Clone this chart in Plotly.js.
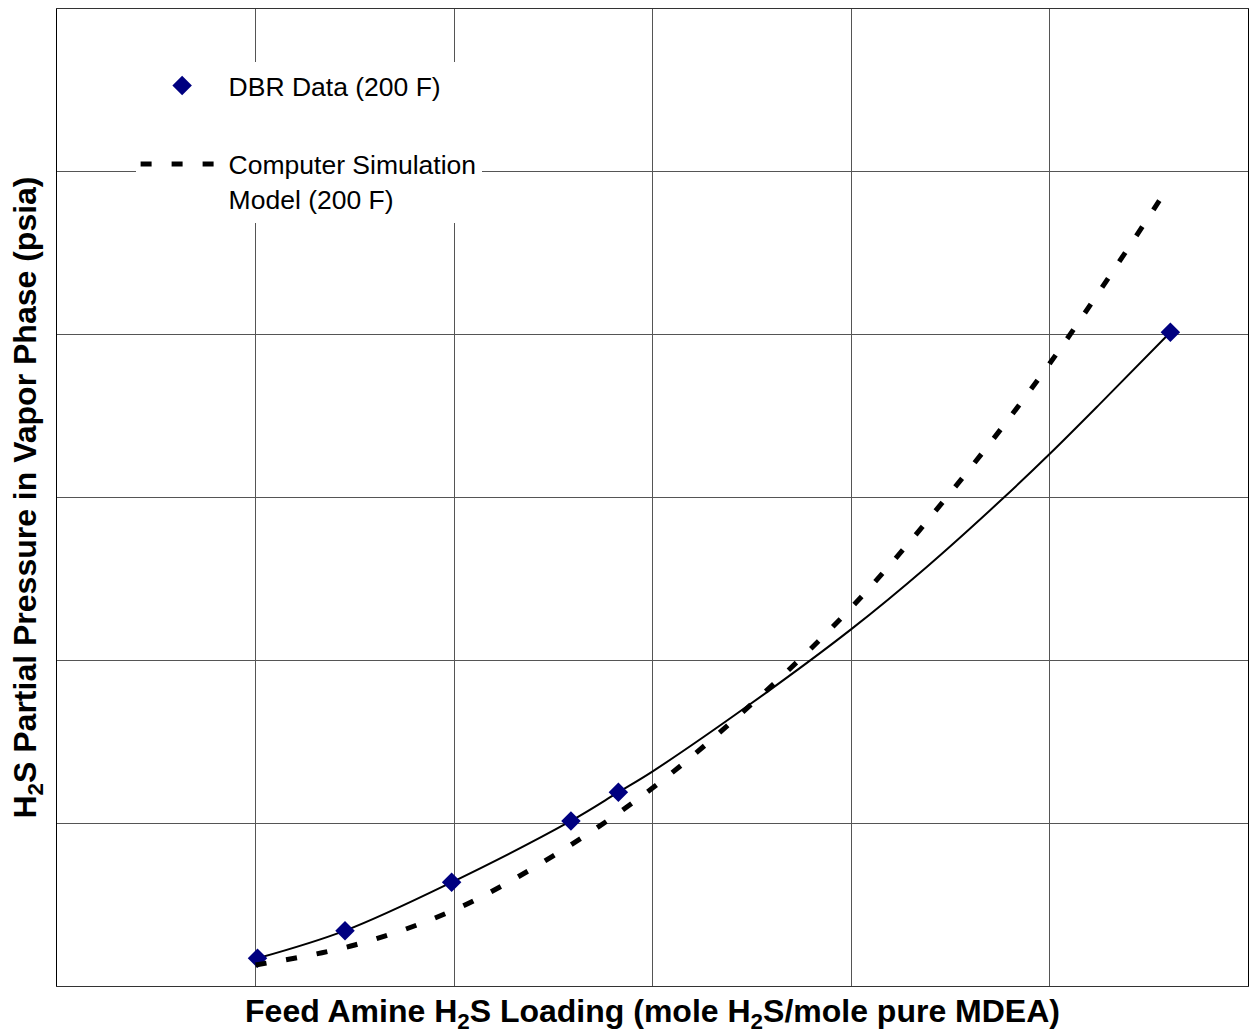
<!DOCTYPE html>
<html>
<head>
<meta charset="utf-8">
<script src="https://cdn.plot.ly/plotly-3.0.1.min.js"></script>
<style>html,body{margin:0;padding:0;background:#fff;}#chart{width:1249px;height:1034px;}</style>
</head>
<body>
<div id="chart"></div>
<script>
// DBR measured data (200 F)
const dbrLoading = [1.01, 1.451, 1.988, 2.589, 2.828, 5.609];
const dbrPressure = [0.170, 0.340, 0.637, 1.014, 1.190, 4.015];

// Solid fitted curve through the DBR data
const fitLoading = [1.01, 1.451, 1.988, 2.589, 2.828, 3.003, 3.491, 4.0, 4.383, 4.766, 5.003, 5.254, 5.609];
const fitPressure = [0.170, 0.340, 0.637, 1.014, 1.190, 1.320, 1.730, 2.190, 2.575, 2.995, 3.270, 3.575, 4.015];

// Computer simulation model (200 F)
const simLoading = [1.0, 1.5, 2.0, 2.5, 3.0, 3.5, 4.0, 4.5, 5.0, 5.6];
const simPressure = [0.129, 0.252, 0.467, 0.799, 1.216, 1.732, 2.322, 3.028, 3.821, 4.91];

const dbrName = 'DBR Data (200 F)';
const simName = 'Computer Simulation<br>Model (200 F)';
const xTitle = 'Feed Amine H<sub>2</sub>S Loading (mole H<sub>2</sub>S/mole pure MDEA)';
const yTitle = 'H<sub>2</sub>S Partial Pressure in Vapor Phase (psia)';

const FONT = 'Arial, "Liberation Sans", sans-serif';

const traces = [
  {
    x: fitLoading, y: fitPressure, mode: 'lines', type: 'scatter',
    line: {color: '#000000', width: 2, shape: 'spline', smoothing: 1},
    showlegend: false, hoverinfo: 'skip'
  },
  {
    x: dbrLoading, y: dbrPressure, mode: 'markers', type: 'scatter', name: dbrName,
    legendgroup: 'a',
    marker: {symbol: 'diamond', size: 15, color: '#000080', line: {width: 0}}
  },
  {
    x: simLoading, y: simPressure, mode: 'lines', type: 'scatter', name: simName,
    legendgroup: 'b',
    line: {color: '#000000', width: 5, dash: '11px,20px', shape: 'spline', smoothing: 1}
  }
];

const layout = {
  width: 1249, height: 1034,
  margin: {l: 57, r: 1, t: 9, b: 48, pad: 0},
  paper_bgcolor: '#ffffff', plot_bgcolor: '#ffffff',
  font: {family: FONT, color: '#000000'},
  showlegend: true,
  legend: {
    x: 0.066, y: 0.946, xanchor: 'left', yanchor: 'top',
    bgcolor: '#ffffff', borderwidth: 0,
    font: {family: FONT, size: 26.5, color: '#000000'},
    itemwidth: 83, tracegroupgap: 41, traceorder: 'grouped', valign: 'top'
  },
  xaxis: {
    range: [0, 6], dtick: 1, tick0: 0, showticklabels: false, ticks: '',
    showgrid: true, gridcolor: '#555555', gridwidth: 1, zeroline: false,
    showline: true, linecolor: '#333333', linewidth: 1, mirror: true,
    title: {text: xTitle, font: {family: FONT, size: 32, color: '#000000', weight: 'bold'}, standoff: 13},
    automargin: false, fixedrange: true
  },
  yaxis: {
    range: [0, 6], dtick: 1, tick0: 0, showticklabels: false, ticks: '',
    showgrid: true, gridcolor: '#555555', gridwidth: 1, zeroline: false,
    showline: true, linecolor: '#000000', linewidth: 1, mirror: true,
    title: {text: yTitle, font: {family: FONT, size: 32, color: '#000000', weight: 'bold'}, standoff: 9},
    automargin: false, fixedrange: true
  }
};

Plotly.newPlot('chart', traces, layout, {staticPlot: true, displayModeBar: false});
</script>
</body>
</html>
